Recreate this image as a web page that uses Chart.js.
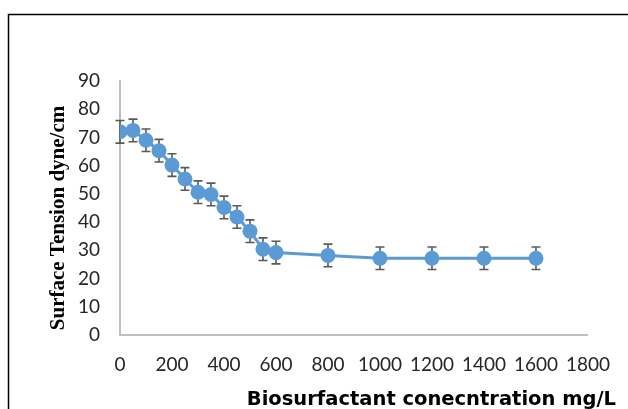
<!DOCTYPE html>
<html>
<head>
<meta charset="utf-8">
<script src="https://cdn.jsdelivr.net/npm/chart.js@4/dist/chart.umd.min.js"></script>
<style>
  html, body { margin: 0; padding: 0; background: #fff; }
  #wrap { width: 628px; height: 409px; position: relative; }
</style>
</head>
<body>
<div id="wrap"><canvas id="chart"></canvas></div>
<script>
// concentration, mg/L
var concentrations = [0, 50, 100, 150, 200, 250, 300, 350, 400, 450, 500, 550, 600, 800, 1000, 1200, 1400, 1600];
// surface tension, dyne/cm
var tensions = [72, 72.5, 69, 65.3, 60.2, 55.3, 50.6, 49.8, 45.2, 41.8, 36.8, 30.4, 29.2, 28.2, 27.2, 27.2, 27.2, 27.2];
// +/- error
var errors = [4, 4, 4, 4, 4, 4, 4, 4, 4, 4, 4, 4, 4, 4, 4, 4, 4, 4];

var xTitle = "Biosurfactant conecntration mg/L";
var yTitle = "Surface Tension dyne/cm";

var points = concentrations.map(function (c, i) {
    return { x: c, y: tensions[i] };
});

// frame line along top and left, plus the two axis titles
var framePlugin = {
    id: "frame",
    beforeDraw: function (chart) {
        var ctx = chart.ctx;
        ctx.save();
        ctx.strokeStyle = "#000";
        ctx.lineWidth = 1.5;
        ctx.beginPath();
        ctx.moveTo(8.5, chart.height);
        ctx.lineTo(8.5, 14.5);
        ctx.lineTo(chart.width, 14.5);
        ctx.stroke();
        ctx.restore();
    },
    afterDraw: function (chart) {
        var ctx = chart.ctx;
        ctx.save();
        ctx.fillStyle = "#000";
        ctx.font = "bold 19.5px 'DejaVu Sans'";
        ctx.textAlign = "right";
        ctx.textBaseline = "middle";
        ctx.fillText(xTitle, 616, 400);

        ctx.translate(59, (chart.chartArea.top + chart.chartArea.bottom) / 2 + 10);
        ctx.rotate(-Math.PI / 2);
        ctx.font = "bold 21px 'Liberation Serif'";
        ctx.textAlign = "center";
        ctx.fillText(yTitle, 0, 0);
        ctx.restore();
    }
};

// vertical error bars with caps, drawn under the markers
var errorBarPlugin = {
    id: "errorBars",
    beforeDatasetsDraw: function (chart) {
        var ctx = chart.ctx;
        var xs = chart.scales.x, ys = chart.scales.y;
        ctx.save();
        ctx.strokeStyle = "#595959";
        ctx.lineWidth = 1.6;
        for (var i = 0; i < concentrations.length; i++) {
            var px = xs.getPixelForValue(concentrations[i]);
            var top = ys.getPixelForValue(tensions[i] + errors[i]);
            var bot = ys.getPixelForValue(tensions[i] - errors[i]);
            ctx.beginPath();
            ctx.moveTo(px, top); ctx.lineTo(px, bot);
            ctx.moveTo(px - 4.5, top); ctx.lineTo(px + 4.5, top);
            ctx.moveTo(px - 4.5, bot); ctx.lineTo(px + 4.5, bot);
            ctx.stroke();
        }
        ctx.restore();
    }
};

new Chart(document.getElementById("chart"), {
    type: "line",
    data: {
        datasets: [{
            data: points,
            borderColor: "#5b9bd5",
            backgroundColor: "#5b9bd5",
            borderWidth: 3,
            pointRadius: 7.5,
            pointHoverRadius: 7.5,
            pointBorderWidth: 0,
            tension: 0
        }]
    },
    options: {
        responsive: true,
        maintainAspectRatio: false,
        animation: false,
        layout: { padding: { top: 81, right: 36, left: 0, bottom: 0 } },
        plugins: { legend: { display: false }, tooltip: { enabled: false } },
        scales: {
            x: {
                type: "linear",
                min: 0, max: 1800,
                grid: { display: false, drawTicks: false },
                border: { color: "#bfbfbf", width: 2 },
                ticks: {
                    stepSize: 200,
                    padding: 18,
                    color: "#262626",
                    font: { family: "Lato", size: 19 },
                    callback: function (v) { return String(v); }
                },
                afterFit: function (s) { s.height = 409 - 335; }
            },
            y: {
                min: 0, max: 90,
                grid: { display: false, drawTicks: false },
                border: { color: "#bfbfbf", width: 2 },
                ticks: {
                    stepSize: 10,
                    padding: 20,
                    color: "#262626",
                    font: { family: "Lato", size: 19 },
                    callback: function (v) { return String(v); }
                },
                afterFit: function (s) { s.width = 120; }
            }
        }
    },
    plugins: [framePlugin, errorBarPlugin]
});
</script>
</body>
</html>
